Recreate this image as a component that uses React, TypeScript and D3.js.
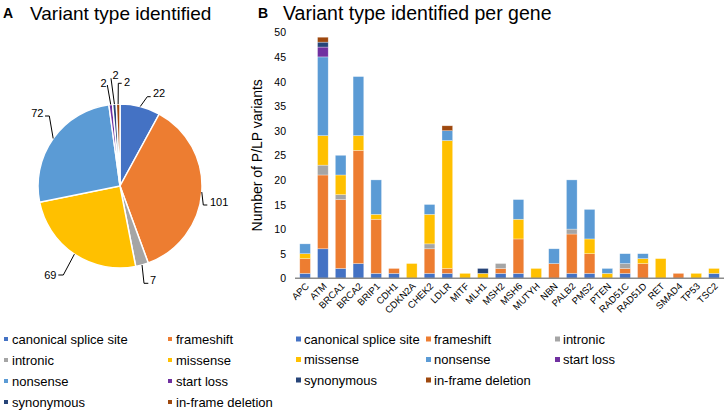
import React from "react";
import * as d3 from "d3";

const variantTypes = ["canonical splice site", "frameshift", "intronic", "missense", "nonsense", "start loss", "synonymous", "in-frame deletion"];
const typeColors = ["#4472C4", "#ED7D31", "#A5A5A5", "#FFC000", "#5B9BD5", "#7030A0", "#264478", "#9E480E"];
const pieValues = [22, 101, 7, 69, 72, 2, 2, 2];

const genes = ["APC", "ATM", "BRCA1", "BRCA2", "BRIP1", "CDH1", "CDKN2A", "CHEK2", "LDLR", "MITF", "MLH1", "MSH2", "MSH6", "MUTYH", "NBN", "PALB2", "PMS2", "PTEN", "RAD51C", "RAD51D", "RET", "SMAD4", "TP53", "TSC2"];
const canonical = [1, 6, 2, 3, 1, 1, 0, 1, 1, 0, 0, 1, 1, 0, 0, 1, 1, 0, 1, 0, 0, 0, 0, 1];
const frameshift = [3, 15, 14, 23, 11, 1, 0, 5, 1, 0, 0, 1, 7, 0, 3, 8, 4, 0, 1, 3, 0, 1, 0, 0];
const intronic = [0, 2, 1, 0, 0, 0, 0, 1, 0, 0, 0, 1, 0, 0, 0, 1, 0, 0, 1, 0, 0, 0, 0, 0];
const missense = [1, 6, 4, 3, 1, 0, 3, 6, 26, 1, 1, 0, 4, 2, 0, 0, 3, 1, 0, 1, 4, 0, 1, 1];
const nonsense = [2, 16, 4, 12, 7, 0, 0, 2, 2, 0, 0, 0, 4, 0, 3, 10, 6, 1, 2, 1, 0, 0, 0, 0];
const startLoss = [0, 2, 0, 0, 0, 0, 0, 0, 0, 0, 0, 0, 0, 0, 0, 0, 0, 0, 0, 0, 0, 0, 0, 0];
const synonymous = [0, 1, 0, 0, 0, 0, 0, 0, 0, 0, 1, 0, 0, 0, 0, 0, 0, 0, 0, 0, 0, 0, 0, 0];
const inframeDeletion = [0, 1, 0, 0, 0, 0, 0, 0, 1, 0, 0, 0, 0, 0, 0, 0, 0, 0, 0, 0, 0, 0, 0, 0];
const series = [canonical, frameshift, intronic, missense, nonsense, startLoss, synonymous, inframeDeletion];
const yTicks = [0, 5, 10, 15, 20, 25, 30, 35, 40, 45, 50];

const FONT = "'Liberation Sans', Arial, Helvetica, sans-serif";

// pie label layout (relative to pie centre)
const pieLabelLayout = [
  { pts: [[27.3, -89.3], [30.7, -89.3]], tx: 33, ty: -92.7, anchor: "start" },
  { pts: [[83.3, 19], [87.3, 19]], tx: 90, ty: 16, anchor: "start" },
  { pts: [[24, 97.3], [28.3, 97.3]], tx: 30, ty: 94, anchor: "start" },
  { pts: [[-56.7, 89], [-61.7, 89]], tx: -63.5, ty: 89, anchor: "end" },
  { pts: [[-70.7, -70], [-75, -70]], tx: -76.5, ty: -72.7, anchor: "end" },
  { pts: [[-12.7, -101]], tx: -13.5, ty: -102.7, anchor: "end" },
  { pts: [[-9, -107.7]], tx: -7.5, ty: -111, anchor: "start" },
  { pts: [[-1.7, -102.7], [1.7, -102.7]], tx: 4, ty: -104.3, anchor: "start" },
];

export default function App() {
  const cx = 120, cy = 186, r = 82;
  const pie = d3.pie<number>().sort(null).value((d) => d);
  const arcs = pie(pieValues);
  const arcGen = d3.arc<d3.PieArcDatum<number>>().innerRadius(0).outerRadius(r);

  // bar chart
  const x = d3.scaleBand<string>().domain(genes).range([296.2, 722.9]).paddingInner(0.4).paddingOuter(0.2);
  const y = d3.scaleLinear().domain([0, 50]).range([278.3, 32.3]);
  const table = genes.map((g, i) => {
    const o: any = { gene: g };
    variantTypes.forEach((t, k) => (o[t] = series[k][i]));
    return o;
  });
  const stacked = d3.stack<any>().keys(variantTypes)(table);

  const pieLegendCols = [4, 168];
  const pieLegendRows = [339, 360, 381, 402];
  const barLegendCols = [296, 426, 555];
  const barLegendRows = [339, 359.5, 380];

  return (
    <svg width={726} height={412} style={{ position: "absolute", left: 0, top: 0, background: "#fff" }} fontFamily={FONT}>
      {/* Panel A */}
      <text x={3} y={18} fontSize={14} fontWeight="bold">A</text>
      <text x={30} y={20} fontSize={19}>Variant type identified</text>
      <g transform={`translate(${cx},${cy})`}>
        {arcs.map((a, i) => (
          <path key={i} d={arcGen(a) || ""} fill={typeColors[i]} stroke="#fff" strokeWidth={1.5} />
        ))}
        {arcs.map((a, i) => {
          const mid = (a.startAngle + a.endAngle) / 2;
          const sx = r * Math.sin(mid), sy = -r * Math.cos(mid);
          const L = pieLabelLayout[i];
          const pts = [[sx, sy], ...L.pts];
          return (
            <g key={"l" + i}>
              <polyline points={pts.map((p) => p.join(",")).join(" ")} fill="none" stroke="#000" strokeWidth={1} />
              <text x={L.tx} y={L.ty} fontSize={11} textAnchor={L.anchor as any} dominantBaseline="central">{pieValues[i]}</text>
            </g>
          );
        })}
      </g>

      {/* Panel B */}
      <text x={258} y={18} fontSize={14} fontWeight="bold">B</text>
      <text x={283} y={20} fontSize={19.5}>Variant type identified per gene</text>
      {yTicks.map((t) => (
        <text key={t} x={286} y={y(t)} fontSize={10.5} textAnchor="end" dominantBaseline="central">{t}</text>
      ))}
      <text transform={`translate(257,${(y(0) + y(50)) / 2}) rotate(-90)`} fontSize={14} textAnchor="middle" dominantBaseline="central">Number of P/LP variants</text>
      {stacked.map((s, k) => (
        <g key={k} fill={typeColors[k]}>
          {s.map((d, i) => d[1] - d[0] > 0 ? (
            <rect key={i} x={x(genes[i])} y={y(d[1])} width={x.bandwidth()} height={y(d[0]) - y(d[1])} stroke="#fff" strokeOpacity={0.5} strokeWidth={0.6} />
          ) : null)}
        </g>
      ))}
      <line x1={295} x2={724} y1={y(0)} y2={y(0)} stroke="#8c8c8c" strokeWidth={1.5} />
      {genes.map((g) => (
        <text key={g} transform={`translate(${(x(g) as number) + x.bandwidth() / 2 + 2},${y(0) + 6}) rotate(-45)`} fontSize={9.5} textAnchor="end" dominantBaseline="central">{g}</text>
      ))}

      {/* Legend A */}
      {variantTypes.map((t, i) => {
        const lx = pieLegendCols[i % 2], ly = pieLegendRows[Math.floor(i / 2)];
        return (
          <g key={"pl" + i}>
            <rect x={lx} y={ly - 2} width={4} height={4} fill={typeColors[i]} />
            <text x={lx + 8} y={ly} fontSize={13} dominantBaseline="central">{t}</text>
          </g>
        );
      })}
      {/* Legend B */}
      {variantTypes.map((t, i) => {
        const lx = barLegendCols[i % 3], ly = barLegendRows[Math.floor(i / 3)];
        return (
          <g key={"bl" + i}>
            <rect x={lx} y={ly - 2.5} width={5} height={5} fill={typeColors[i]} />
            <text x={lx + 8} y={ly} fontSize={13} dominantBaseline="central">{t}</text>
          </g>
        );
      })}
    </svg>
  );
}
